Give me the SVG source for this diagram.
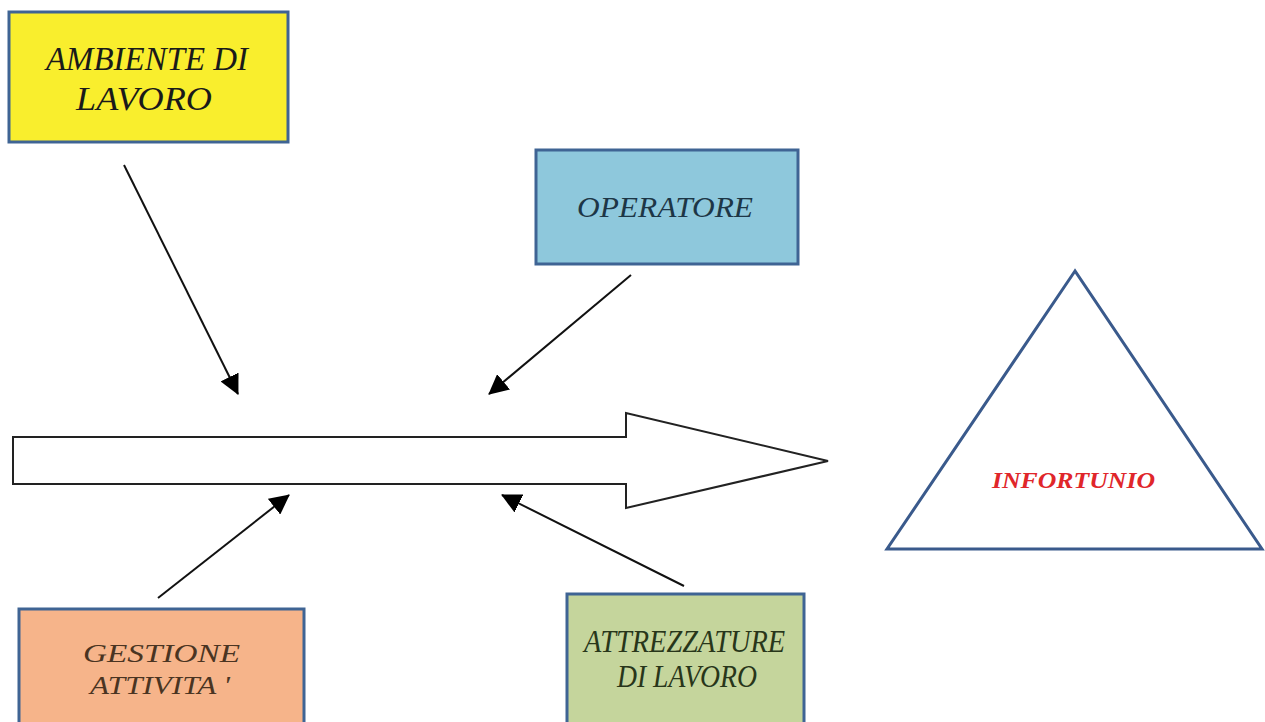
<svg xmlns="http://www.w3.org/2000/svg" width="1265" height="722" viewBox="0 0 1265 722">
<style>
.box{stroke:#3F6494;stroke-width:3}
.lbl{font-family:"Liberation Serif","Times New Roman",serif;font-style:italic;text-anchor:start}
.s34{font-size:34px}
.s29{font-size:29px}
.s26{font-size:26px}
.s31{font-size:31px}
.con{stroke:#111;stroke-width:2;fill:none;marker-end:url(#ah2)}
</style>
<defs>
<marker id="ah2" viewBox="0 0 20 20" refX="19" refY="10" markerWidth="20" markerHeight="20" markerUnits="userSpaceOnUse" orient="auto">
<path d="M0,0 L20,10 L0,20 z" fill="#000"/>
</marker>
</defs>
<rect width="1265" height="722" fill="#fff"/>
<g id="ambiente">
<rect class="box" x="9" y="12" width="279" height="130" fill="#F9EE2D"/>
<text class="lbl s34" x="46" y="70" textLength="202" lengthAdjust="spacingAndGlyphs" fill="#1a1a1a">AMBIENTE DI</text>
<text class="lbl s34" x="76" y="110" textLength="136" lengthAdjust="spacingAndGlyphs" fill="#1a1a1a">LAVORO</text>
</g>
<g id="operatore">
<rect class="box" x="536" y="150" width="262" height="114" fill="#8EC8DC"/>
<text class="lbl s29" x="577" y="217" textLength="176" lengthAdjust="spacingAndGlyphs" fill="#1d3646">OPERATORE</text>
</g>
<g id="gestione">
<rect class="box" x="19" y="609" width="285" height="120" fill="#F6B48A"/>
<text class="lbl s26" x="83" y="662" textLength="157" lengthAdjust="spacingAndGlyphs" fill="#4a3422">GESTIONE</text>
<text class="lbl s26" x="90" y="694" textLength="140" lengthAdjust="spacingAndGlyphs" fill="#4a3422">ATTIVITA '</text>
</g>
<g id="attrezzature">
<rect class="box" x="567" y="594" width="237" height="135" fill="#C5D59C"/>
<text class="lbl s31" x="584" y="652" textLength="201" lengthAdjust="spacingAndGlyphs" fill="#28361a">ATTREZZATURE</text>
<text class="lbl s31" x="617" y="687" textLength="140" lengthAdjust="spacingAndGlyphs" fill="#28361a">DI LAVORO</text>
</g>
<g id="infortunio">
<polygon points="1075,271 887,549 1262,549" fill="#fff" stroke="#3A5A8C" stroke-width="3"/>
<text x="992" y="488" textLength="163" lengthAdjust="spacingAndGlyphs" font-family="'Liberation Serif','Times New Roman',serif" font-style="italic" font-weight="bold" font-size="24" fill="#E0262A">INFORTUNIO</text>
</g>
<g id="processo">
<polygon points="13,437 626,437 626,413 828,461 626,508 626,484 13,484" fill="#fff" stroke="#222" stroke-width="2"/>
</g>
<g id="connectors">
<line class="con" x1="124" y1="165" x2="238" y2="394"/>
<line class="con" x1="631" y1="275" x2="489" y2="394"/>
<line class="con" x1="158" y1="598" x2="289" y2="495"/>
<line class="con" x1="684" y1="586" x2="502" y2="495"/>
</g>
</svg>
